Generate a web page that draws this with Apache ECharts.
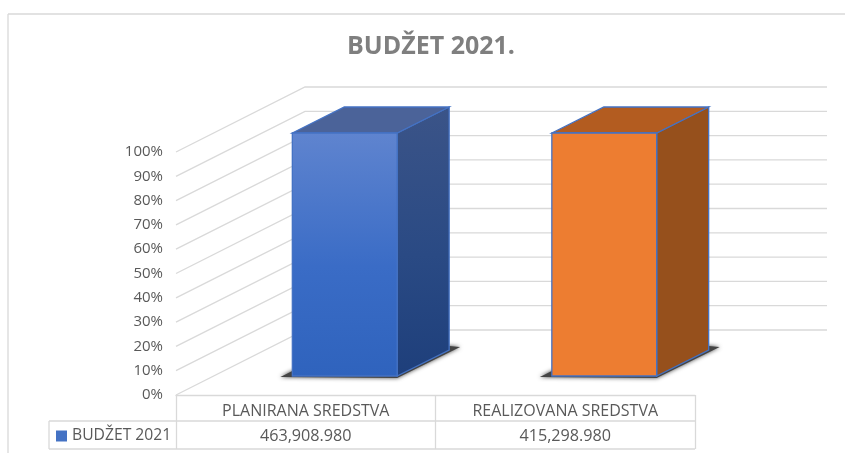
<!DOCTYPE html>
<html>
<head>
<meta charset="utf-8">
<script type="text/javascript" src="https://cdn.jsdelivr.net/npm/echarts@6/dist/echarts.min.js"></script>
<style>
    html, body { margin: 0; padding: 0; background: #fff; }
    #container { width: 845px; height: 453px; }
</style>
</head>
<body>
<div id="container"></div>
<script type="text/javascript">
var categories = ['PLANIRANA SREDSTVA', 'REALIZOVANA SREDSTVA'];
var seriesName = 'BUDŽET 2021';
var budgetValues = [463908.980, 415298.980];
var shareValues = [100, 100];   // 100% stacked, one series per column
var tickValues = [0, 10, 20, 30, 40, 50, 60, 70, 80, 90, 100];

// fake 3d: how far things are pushed back from the axis plane
var wallDx = 129, wallDy = -65, wallRight = 827;
var barDx = 39, barDy = -19, depthDx = 52, depthDy = -26;
var barRatio = 0.404;

var fontName = '"Open Sans", sans-serif';
var grayLine = '#d9d9d9';
var grayText = '#595959';

function grad(c1, c2, c3) {
    return new echarts.graphic.LinearGradient(0, 0, 0, 1, [
        { offset: 0, color: c1 },
        { offset: 0.55, color: c2 },
        { offset: 1, color: c3 }
    ]);
}

var barStyles = [
    { front: grad('#5f84cf', '#3a6cc6', '#2f63bd'), side: grad('#3b5488', '#2a4a84', '#1e3f7b'), top: '#4b6399', stroke: '#4472c4' },
    { front: '#ed7d31', side: '#96501c', top: '#b35c20', stroke: '#4472c4' }
];

function renderWall(params, api) {
    var p = api.coord([0, api.value(0)]);
    var left = params.coordSys.x;
    return {
        type: 'polyline',
        silent: true,
        shape: { points: [[left, p[1]], [left + wallDx, p[1] + wallDy], [wallRight, p[1] + wallDy]] },
        style: { stroke: grayLine, lineWidth: 1.3, fill: null }
    };
}

function renderBar(params, api) {
    var i = api.value(0);
    var base = api.coord([i, 0]);
    var top = api.coord([i, api.value(1)]);
    var w = api.size([1, 0])[0] * barRatio;
    var s = barStyles[i];
    var x0 = base[0] - w / 2 + barDx, x1 = x0 + w;
    var y0 = base[1] + barDy, y1 = top[1] + barDy;
    return {
        type: 'group',
        children: [
            {
                type: 'polygon',
                shape: { points: [[x0 - 12, y0 + 1], [x1, y0 + 2], [x1 + depthDx + 11, y0 + depthDy - 3], [x1 + depthDx, y0 + depthDy - 4], [x0, y0 - 5]] },
                style: { fill: '#444', shadowBlur: 4, shadowColor: '#444' }
            },
            {
                type: 'polygon',
                shape: { points: [[x1, y1], [x1 + depthDx, y1 + depthDy], [x1 + depthDx, y0 + depthDy], [x1, y0]] },
                style: { fill: s.side, stroke: s.stroke, lineWidth: 1.3 }
            },
            {
                type: 'polygon',
                shape: { points: [[x0, y1], [x0 + depthDx, y1 + depthDy], [x1 + depthDx, y1 + depthDy], [x1, y1]] },
                style: { fill: s.top, stroke: s.stroke, lineWidth: 1.3 }
            },
            {
                type: 'rect',
                shape: { x: x0, y: y1, width: w, height: y0 - y1 },
                style: { fill: s.front, stroke: s.stroke, lineWidth: 1.3 }
            },
            // value row of the data table
            {
                type: 'text',
                style: {
                    x: base[0],
                    y: base[1] + 41,
                    text: api.value(2).toLocaleString('en-US', { minimumFractionDigits: 3, maximumFractionDigits: 3 }),
                    align: 'center',
                    verticalAlign: 'middle',
                    fill: grayText,
                    font: '16.2px ' + fontName
                }
            }
        ]
    };
}

function tableLine(x1, y1, x2, y2) {
    return {
        type: 'line',
        silent: true,
        shape: { x1: x1, y1: y1, x2: x2, y2: y2 },
        style: { stroke: grayLine, lineWidth: 1.3 }
    };
}

var myChart = echarts.init(document.getElementById('container'));
var option = {
    animation: false,
    backgroundColor: '#fff',
    title: {
        text: 'BUDŽET 2021.',
        left: 426,
        top: 29,
        textAlign: 'center',
        textStyle: { fontFamily: fontName, fontSize: 25, fontWeight: 'bold', color: '#7f7f7f' }
    },
    legend: {
        left: 51,
        top: 423,
        selectedMode: false,
        itemWidth: 11,
        itemHeight: 11,
        icon: 'rect',
        data: [seriesName],
        textStyle: { fontFamily: fontName, fontSize: 15.7, color: grayText }
    },
    grid: { left: 176, right: 150, top: 152, bottom: 58 },
    xAxis: {
        type: 'category',
        data: categories,
        axisLine: { show: true, lineStyle: { color: grayLine, width: 1.3 } },
        axisTick: { show: true, length: 54, lineStyle: { color: grayLine, width: 1.3 } },
        axisLabel: { margin: 8, fontFamily: fontName, fontSize: 16, color: grayText }
    },
    yAxis: {
        type: 'value',
        min: 0,
        max: 100,
        interval: 10,
        axisLine: { show: false },
        axisTick: { show: false },
        splitLine: { show: false },
        axisLabel: { margin: 13, padding: [2, 0, 0, 0], formatter: '{value}%', fontFamily: fontName, fontSize: 15, color: grayText }
    },
    graphic: [
        tableLine(8, 14, 845, 14),
        tableLine(8, 14, 8, 453),
        tableLine(49, 421, 695, 421),
        tableLine(49, 449, 695, 449),
        tableLine(49, 421, 49, 449)
    ],
    series: [
        {
            name: 'wall',
            type: 'custom',
            silent: true,
            renderItem: renderWall,
            encode: { y: 0 },
            data: tickValues.map(function (v) { return [v]; }),
            z: 1
        },
        {
            name: seriesName,
            type: 'custom',
            renderItem: renderBar,
            itemStyle: { color: '#4472c4' },
            encode: { x: 0, y: 1 },
            data: categories.map(function (c, i) { return [i, shareValues[i], budgetValues[i]]; }),
            z: 2
        }
    ]
};
myChart.setOption(option);
</script>
</body>
</html>
